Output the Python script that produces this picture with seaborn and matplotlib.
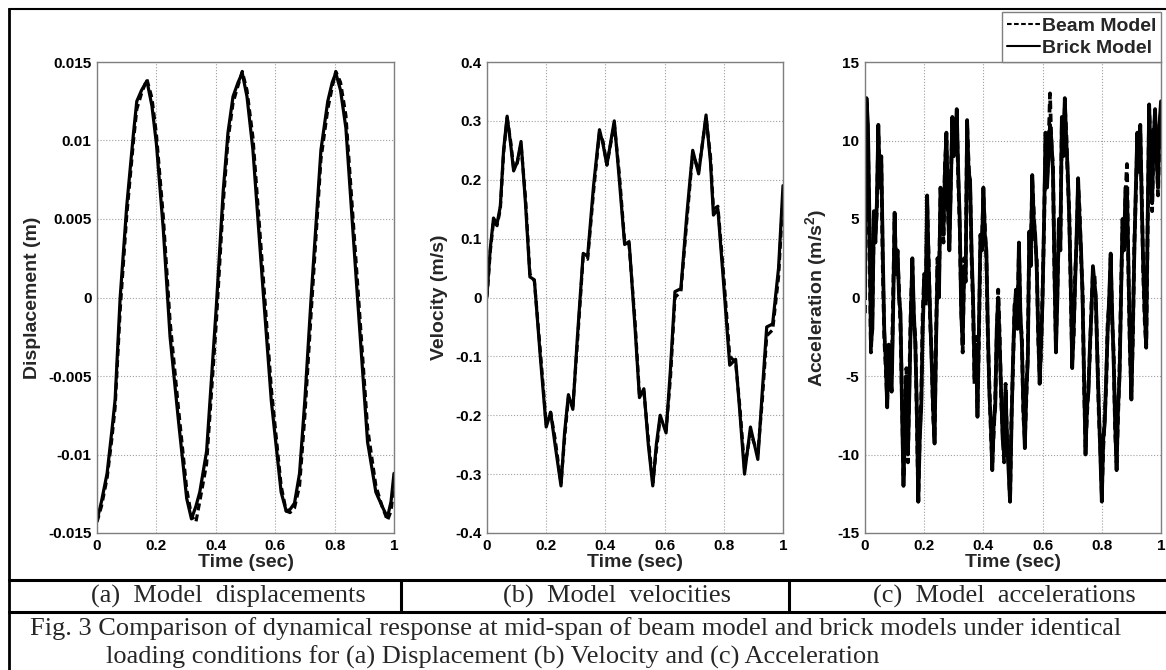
import numpy as np
import pandas as pd
import matplotlib
matplotlib.use("Agg")
import matplotlib.pyplot as plt
import seaborn as sns
from matplotlib.lines import Line2D

# ---- data ----
disp_t = [0, 0.015, 0.034, 0.05, 0.061, 0.078, 0.1, 0.123, 0.134, 0.15,
          0.168, 0.185, 0.2, 0.223, 0.246, 0.274, 0.302, 0.318, 0.333, 0.346,
          0.369, 0.402, 0.425, 0.441, 0.458, 0.475, 0.489, 0.505, 0.525, 0.559,
          0.587, 0.62, 0.637, 0.65, 0.665, 0.682, 0.7, 0.721, 0.754, 0.777,
          0.792, 0.804, 0.82, 0.838, 0.877, 0.911, 0.939, 0.96, 0.978, 0.99, 1.0]
disp_brick = [-0.0142, -0.0130, -0.0112, -0.0085, -0.0065, 0.0, 0.0058, 0.0105, 0.0125, 0.0132,
              0.0138, 0.0122, 0.0098, 0.0044, -0.0025, -0.0078, -0.0128, -0.0141, -0.0133, -0.0124,
              -0.0098, -0.0005, 0.0068, 0.0105, 0.0128, 0.0137, 0.0143, 0.0128, 0.0094, 0.0005,
              -0.0066, -0.0124, -0.0136, -0.0135, -0.0131, -0.0112, -0.0065, 0.0, 0.0094, 0.0125,
              0.0137, 0.0143, 0.0132, 0.0108, 0.0, -0.0092, -0.0124, -0.0133, -0.0140, -0.0130, -0.0112]
disp_beam = [-0.0143, -0.0133, -0.0115, -0.0090, -0.0070, -0.0008, 0.0052, 0.0100, 0.0120, 0.0130,
             0.0139, 0.0127, 0.0104, 0.0052, -0.0015, -0.0070, -0.0122, -0.0139, -0.0143, -0.0130,
             -0.0106, -0.0015, 0.0060, 0.0100, 0.0124, 0.0135, 0.0144, 0.0132, 0.0102, 0.0015,
             -0.0058, -0.0120, -0.0136, -0.0137, -0.0134, -0.0120, -0.0075, -0.0010, 0.0088, 0.0120,
             0.0134, 0.0144, 0.0137, 0.0116, 0.0010, -0.0083, -0.0120, -0.0133, -0.0142, -0.0136, -0.0120]

vel_t = [0, 0.011, 0.022, 0.034, 0.045, 0.056, 0.068, 0.08, 0.09, 0.102,
         0.115, 0.13, 0.145, 0.16, 0.18, 0.2, 0.215, 0.23, 0.25, 0.262,
         0.275, 0.29, 0.305, 0.325, 0.34, 0.36, 0.38, 0.392, 0.405, 0.43,
         0.447, 0.465, 0.48, 0.5, 0.515, 0.53, 0.545, 0.56, 0.572, 0.585,
         0.605, 0.62, 0.635, 0.655, 0.675, 0.695, 0.715, 0.74, 0.755, 0.765,
         0.78, 0.8, 0.82, 0.84, 0.855, 0.87, 0.89, 0.915, 0.93, 0.945,
         0.965, 0.985, 1.0]
vel_brick = [0.005, 0.083, 0.135, 0.125, 0.155, 0.25, 0.308, 0.26, 0.215, 0.23,
             0.265, 0.16, 0.035, 0.03, -0.1, -0.22, -0.195, -0.25, -0.32, -0.23,
             -0.165, -0.19, -0.07, 0.075, 0.07, 0.19, 0.285, 0.26, 0.225, 0.30,
             0.2, 0.09, 0.095, -0.05, -0.17, -0.155, -0.25, -0.32, -0.25, -0.2,
             -0.23, -0.12, 0.01, 0.015, 0.14, 0.25, 0.21, 0.31, 0.23, 0.14,
             0.15, 0.02, -0.115, -0.105, -0.2, -0.30, -0.22, -0.275, -0.16, -0.05,
             -0.045, 0.05, 0.19]
vel_beam = [0.0, 0.078, 0.13, 0.122, 0.15, 0.245, 0.305, 0.265, 0.22, 0.228,
            0.26, 0.17, 0.04, 0.028, -0.09, -0.215, -0.195, -0.24, -0.315, -0.24,
            -0.17, -0.185, -0.08, 0.07, 0.065, 0.18, 0.28, 0.265, 0.225, 0.295,
            0.21, 0.095, 0.09, -0.04, -0.165, -0.16, -0.24, -0.315, -0.26, -0.205,
            -0.225, -0.135, 0.0, 0.01, 0.13, 0.245, 0.215, 0.305, 0.24, 0.15,
            0.155, 0.035, -0.1, -0.11, -0.19, -0.29, -0.23, -0.265, -0.175, -0.065,
            -0.055, 0.035, 0.17]

# acceleration sampled every 0.005 s
acc_t = np.round(np.arange(201) * 0.005, 3)
acc_brick = [0, 12.7, 11, 5, -3, -2, 5.5, 3.5, 6, 11, 7, 9, 3, -2, -4, -7, -3, -5, -6, -1,
             5.4, 1.5, 3, 0, -1, -7, -12, -8, -5, -10, -6, -1, 2.5, -1, -3, -7, -13, -9, -7, -2,
             1, 0, 6.5, 2, -1, -4, -7, -9.3, -3, 2, 0, 7, 5, 4, 8, 10.5, 6, 3, 7, 11.5,
             9, 10, 12, 8, 5, -1, -3, 2, 1, 11.3, 8, 7.5, 3, 0, -5, -3, -7.6, -2, 4, 3,
             7, 4, 3, -2, -6, -8, -11, -8, -7, -2, 0, -3, -6, -9, -10, -6, -9, -11, -13, -8,
             -4, -1, 0.5, -2, 3.5, -1, -3, -7, -9.6, -6, -4, 4.2, 2, 7.8, 5, 4, 2, -2, -5.5, -3,
             0, 5, 10.5, 7, 9, 11, 10, 8, 2, -3.5, 0, 5, 3, 11.5, 9, 12.7, 10, 8, 5, 1,
             -4.5, -2, 1, 4, 7.6, 5, 3, 0, -5, -10, -7, -6, -3, -1, 2, 1, 0, -4, -7, -10,
             -13, -9, -8, -5, -2, 0, 2.8, -1, -4, -8, -11, -7, -5, 0, 5, 3, 7, 7, 2, -3,
             -6.5, -2, 3, 7, 10.5, 8, 11, 6, 2, -1, -3, 5, 12.3, 9, 6, 10, 12, 9, 7, 11,
             12.5]
acc_beam = [-1, 12.2, 10, 4, -3.5, -1, 5, 4, 5.5, 10.5, 8, 8.5, 2, -2.5, -4.5, -6.5, -3.5, -5.5, -5, 0,
            5, 2, 2.5, 0.5, -2, -6.5, -11.5, -9, -4.5, -10.5, -5, -0.5, 2, -1.5, -2.5, -7.5, -13, -8.5, -6.5, -1,
            1.5, -0.5, 6, 2.5, -1.5, -3.5, -7.5, -9, -2.5, 2.5, 1, 6.5, 5.5, 3.5, 8.5, 10, 5.5, 3.5, 7.5, 11,
            9.5, 10.5, 11.5, 7.5, 4.5, -0.5, -3.5, 2.5, 1.5, 11, 8.5, 7, 2.5, -0.5, -5.5, -2.5, -7, -2.5, 3.5, 3.5,
            6.5, 4.5, 2.5, -2.5, -5.5, -8.5, -10.5, -8.5, -6.5, -2.5, 0.5, -2.5, -6.5, -8.5, -10.5, -5.5, -9.5, -10.5, -13, -7.5,
            -4.5, -0.5, 0, -1.5, 3, -1.5, -2.5, -7.5, -9, -6.5, -3.5, 4, 2.5, 7.5, 5.5, 3.5, 2.5, -2.5, -5, -3.5,
            0.5, 4.5, 10, 7.5, 9.5, 13, 9.5, 8.5, 1.5, -3, 0.5, 4.5, 3.5, 11, 9.5, 12.2, 10.5, 7.5, 5.5, 0.5,
            -4, -2.5, 1.5, 3.5, 7.2, 5.5, 2.5, 0.5, -5.5, -9.5, -7.5, -5.5, -3.5, -0.5, 1.5, 1.5, -0.5, -3.5, -7.5, -9.5,
            -12.5, -9.5, -7.5, -5.5, -1.5, -0.5, 2.5, -1.5, -3.5, -8.5, -10.5, -7.5, -4.5, 0.5, 4.5, 3.5, 6.5, 8.5, 1.5, -3.5,
            -6, -2.5, 3.5, 6.5, 10, 8.5, 10.5, 6.5, 1.5, -1.5, -3.2, 4.5, 12, 9.5, 5.5, 10.5, 11.5, 9.5, 6.5, 10.5,
            12]

x_ticks = [0, 0.2, 0.4, 0.6, 0.8, 1]
x_labels = ["0", "0.2", "0.4", "0.6", "0.8", "1"]
disp_ticks = [-0.015, -0.01, -0.005, 0, 0.005, 0.01, 0.015]
disp_labels = ["-0.015", "-0.01", "-0.005", "0", "0.005", "0.01", "0.015"]
vel_ticks = [-0.4, -0.3, -0.2, -0.1, 0, 0.1, 0.2, 0.3, 0.4]
vel_labels = ["-0.4", "-0.3", "-0.2", "-0.1", "0", "0.1", "0.2", "0.3", "0.4"]
acc_ticks = [-15, -10, -5, 0, 5, 10, 15]
acc_labels = ["-15", "-10", "-5", "0", "5", "10", "15"]

models = ["Beam Model", "Brick Model"]
col_captions = ["(a)  Model  displacements", "(b)  Model  velocities", "(c)  Model  accelerations"]
fig_caption = ["Fig. 3 Comparison of dynamical response at mid-span of beam model and brick models under identical",
               "loading conditions for (a) Displacement (b) Velocity and (c) Acceleration"]

sns.set_theme(style="white")
plt.rcParams['font.family'] = ['Liberation Sans', 'DejaVu Sans']
plt.rcParams['mathtext.fontset'] = 'custom'
plt.rcParams['mathtext.bf'] = 'Liberation Sans:bold'
plt.rcParams['mathtext.rm'] = 'Liberation Sans:bold'

W, H = 1166, 670
fig = plt.figure(figsize=(W / 100, H / 100), dpi=100)
fig.patch.set_facecolor('white')


def px(x0, y0, x1, y1):
    return [x0 / W, 1 - y1 / H, (x1 - x0) / W, (y1 - y0) / H]


def long_df(t, beam, brick):
    return pd.concat([
        pd.DataFrame({'t': t, 'v': beam, 'Model': models[0]}),
        pd.DataFrame({'t': t, 'v': brick, 'Model': models[1]}),
    ])


panels = [
    (px(97, 62, 394, 533), long_df(disp_t, disp_beam, disp_brick), disp_ticks, disp_labels,
     (-0.015, 0.015), 'Displacement (m)', 2.3),
    (px(487, 62, 783, 533), long_df(vel_t, vel_beam, vel_brick), vel_ticks, vel_labels,
     (-0.4, 0.4), 'Velocity (m/s)', 2.3),
    (px(865, 62, 1161, 533), long_df(acc_t, acc_beam, acc_brick), acc_ticks, acc_labels,
     (-15, 15), r'Acceleration (m/s$^{\mathbf{2}}$)', 2.7),
]

axes = []
for rect, df, yt, yl, ylim, ylab, lw in panels:
    ax = fig.add_axes(rect)
    sns.lineplot(data=df, x='t', y='v', hue='Model', style='Model',
                 palette={models[0]: 'black', models[1]: 'black'},
                 dashes={models[0]: (2.2, 1.3), models[1]: ''},
                 estimator=None, sort=False, lw=lw, legend=False, ax=ax)
    ax.set_xlim(0, 1)
    ax.set_ylim(*ylim)
    ax.set_xticks(x_ticks)
    ax.set_xticklabels(x_labels)
    ax.set_yticks(yt)
    ax.set_yticklabels(yl)
    ax.grid(True, linestyle=':', color='#a0a0a0', lw=0.8)
    for sp in ax.spines.values():
        sp.set_color('#7f7f7f')
        sp.set_linewidth(1.0)
    ax.tick_params(length=0, pad=4, labelsize=11, labelcolor='black')
    for lab in ax.get_xticklabels() + ax.get_yticklabels():
        lab.set_fontweight('bold')
    ax.set_xlabel('Time (sec)', fontsize=14, fontweight='bold', labelpad=1)
    ax.set_ylabel(ylab, fontsize=14, fontweight='bold', labelpad=5)
    axes.append(ax)

# legend above panel c
handles = [Line2D([], [], color='black', lw=1.5, linestyle=(0, (2.2, 1.2))),
           Line2D([], [], color='black', lw=1.5)]
leg = axes[2].legend(handles, models, loc='lower right', bbox_to_anchor=(1.0, 1.0),
                     borderaxespad=0, frameon=True, fancybox=False, framealpha=1,
                     edgecolor='#7f7f7f', handlelength=1.7, handletextpad=0.1,
                     labelspacing=0.25, borderpad=0.25,
                     prop={'weight': 'bold', 'size': 14})
leg.get_frame().set_linewidth(1.0)

# outer frame and table lines (figure pixels)
def hline(y, x0, x1, lw):
    fig.add_artist(Line2D([x0 / W, x1 / W], [1 - y / H, 1 - y / H], color='black', lw=lw))


def vline(x, y0, y1, lw):
    fig.add_artist(Line2D([x / W, x / W], [1 - y0 / H, 1 - y1 / H], color='black', lw=lw))


hline(9, 9, W, 1.5)
vline(9, 9, H, 2.0)
hline(580, 9, W, 2.2)
hline(612, 9, W, 2.2)
vline(401, 580, 612, 2.2)
vline(789, 580, 612, 2.2)

serif = ['Liberation Serif', 'DejaVu Serif']
for cx, txt in zip([228, 617, 1004], col_captions):
    fig.text(cx / W, 1 - 596 / H, txt, ha='center', va='center',
             fontsize=19, family=serif)
fig.text(30 / W, 1 - 629 / H, fig_caption[0], ha='left', va='center', fontsize=19, family=serif)
fig.text(106 / W, 1 - 657 / H, fig_caption[1], ha='left', va='center', fontsize=19, family=serif)

plt.savefig('out.png', dpi=100)
